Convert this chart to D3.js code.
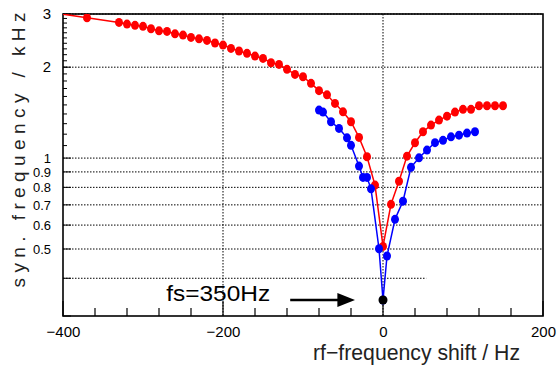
<!DOCTYPE html>
<html><head><meta charset="utf-8">
<script src="https://cdn.jsdelivr.net/npm/d3@7"></script>
<style>
html,body{margin:0;padding:0;background:#fff;}
svg{display:block;}
text{font-family:"Liberation Sans",Arial,Helvetica,sans-serif;}
</style></head>
<body>
<svg id="chart" width="557" height="366"></svg>
<script>
// ---- data ----
const redX = [-430,-370,-330,-320,-310,-300,-290,-280,-270,-260,-250,-240,-230,-220,-210,-200,-190,-180,-170,-160,-150,-140,-130,-120,-110,-100,-90,-80,-70,-60,-50,-40,-30,-20,-10,0,10,20,30,40,50,60,70,80,90,100,110,120,130,140,150];
const redY = [3.08,2.915,2.814,2.778,2.751,2.730,2.680,2.639,2.627,2.579,2.555,2.510,2.483,2.453,2.405,2.367,2.308,2.262,2.222,2.177,2.138,2.069,2.043,1.967,1.893,1.859,1.768,1.672,1.620,1.517,1.423,1.319,1.171,1.010,0.814,0.510,0.703,0.838,1.015,1.124,1.222,1.286,1.336,1.377,1.420,1.450,1.450,1.490,1.490,1.490,1.490];
const blueX = [-80,-75,-65,-55,-45,-40,-30,-25,-20,-15,-5,0,5,15,25,35,45,55,65,75,85,95,105,115];
const blueY = [1.442,1.420,1.319,1.254,1.167,1.102,0.941,0.863,0.863,0.791,0.501,0.339,0.474,0.627,0.720,0.932,1.002,1.063,1.125,1.145,1.176,1.191,1.210,1.222];
const markX = [0];
const markY = [0.339];
const xTickLabels = [-400,-200,0,200];
const yTickLabels = [0.5,0.6,0.7,0.8,0.9,1,2,3];
const yGrid = [0.5,0.6,0.7,0.8,0.9,1,2,3];
const xGrid = [-200,0];
const annotText = "fs=350Hz";

// ---- layout ----
const svg = d3.select("#chart");
const L = 63, R = 543, T = 14, B = 316;
const x = d3.scaleLinear().domain([-400,200]).range([L,R]);
const y = d3.scaleLog().domain([0.3,3]).range([B,T]);

svg.append("defs").append("clipPath").attr("id","clip")
  .append("rect").attr("x",L).attr("y",T).attr("width",R-L).attr("height",B-T);

// grid
const g = svg.append("g").attr("stroke","#000").attr("stroke-width",1).attr("stroke-dasharray","1.5,1.5").attr("fill","none");
yGrid.forEach(v=>{
  g.append("line").attr("x1",L).attr("x2",R).attr("y1",y(v)).attr("y2",y(v));
});
g.append("line").attr("x1",L).attr("x2",x(54)).attr("y1",y(0.4)).attr("y2",y(0.4));
xGrid.forEach(v=>{
  g.append("line").attr("x1",x(v)).attr("x2",x(v)).attr("y1",T).attr("y2",B);
});

// x axis
const xAxis = d3.axisBottom(x).tickValues(xTickLabels).tickSize(0).tickPadding(10).tickFormat(d=>d3.format("")(d).replace("-","\u2212"));
const xa = svg.append("g").attr("transform",`translate(0,${B})`).call(xAxis);
xa.select(".domain").remove();
xa.selectAll("text").attr("font-size",15).attr("fill","#000").attr("font-family","Liberation Sans, Arial, sans-serif");
const minorX = d3.range(-400,201,40);
svg.append("g").selectAll("line").data(minorX).join("line")
  .attr("x1",d=>x(d)).attr("x2",d=>x(d))
  .attr("y1",B).attr("y2",d=>d%200===0?B-15:B-8)
  .attr("stroke","#000").attr("stroke-width",1.2);

// y axis
const yAxis = d3.axisLeft(y).tickValues(yTickLabels).tickSize(0).tickPadding(12).tickFormat(d=>d3.format("")(d));
const ya = svg.append("g").attr("transform",`translate(${L},0)`).call(yAxis);
ya.select(".domain").remove();
ya.selectAll("text").attr("font-size",d=>d>1?15:13).attr("fill","#000").attr("font-family","Liberation Sans, Arial, sans-serif")
  .attr("textLength",d=>d<1?18:null).attr("lengthAdjust","spacingAndGlyphs");
const majorY = [0.3,0.4,0.5,0.6,0.7,0.8,0.9,1,2,3];
const minorY = d3.range(11,30).map(d=>d/10);
svg.append("g").selectAll("line").data(majorY).join("line")
  .attr("x1",L).attr("x2",L+8).attr("y1",d=>y(d)).attr("y2",d=>y(d))
  .attr("stroke","#000").attr("stroke-width",1);
svg.append("g").selectAll("line").data(minorY).join("line")
  .attr("x1",L).attr("x2",L+4).attr("y1",d=>y(d)).attr("y2",d=>y(d))
  .attr("stroke","#000").attr("stroke-width",1);

// frame
svg.append("rect").attr("x",L).attr("y",T).attr("width",R-L).attr("height",B-T)
  .attr("fill","none").attr("stroke","#000").attr("stroke-width",1.6);

// series
const line = d3.line().x(d=>x(d[0])).y(d=>y(d[1]));
const plot = svg.append("g").attr("clip-path","url(#clip)");
function series(xs, ys, color){
  const pts = xs.map((v,i)=>[v,ys[i]]);
  plot.append("path").datum(pts).attr("d",line).attr("fill","none").attr("stroke",color).attr("stroke-width",1.5);
  plot.append("g").selectAll("ellipse").data(pts).join("ellipse")
    .attr("cx",d=>x(d[0])).attr("cy",d=>y(d[1])).attr("rx",4).attr("ry",4.5).attr("fill",color);
}
series(redX, redY, "#ff0000");
series(blueX, blueY, "#0000ff");
plot.append("g").selectAll("circle").data(markX.map((v,i)=>[v,markY[i]])).join("circle")
  .attr("cx",d=>x(d[0])).attr("cy",d=>y(d[1])).attr("r",4.5).attr("fill","#000");

// annotation
svg.append("line").attr("x1",x(-116)).attr("x2",x(-55)).attr("y1",y(0.339)).attr("y2",y(0.339))
  .attr("stroke","#000").attr("stroke-width",2.5);
svg.append("path").attr("d",`M${x(-57)},${y(0.339)-7}L${x(-35)},${y(0.339)}L${x(-57)},${y(0.339)+7}Z`).attr("fill","#000");
svg.append("text").attr("x",x(-271)).attr("y",y(0.339)+1).attr("font-size",22)
  .attr("textLength",104).attr("lengthAdjust","spacingAndGlyphs").text(annotText);

// axis titles
svg.append("text").attr("x",313).attr("y",360).attr("font-size",22)
  .attr("textLength",207).attr("lengthAdjust","spacingAndGlyphs").attr("fill","#222")
  .text("rf\u2212frequency shift / Hz");
svg.append("text").attr("transform","translate(25,150) rotate(-90)").attr("text-anchor","middle")
  .attr("font-size",19).attr("textLength",275).attr("lengthAdjust","spacing").attr("fill","#222")
  .text("syn. frequency / kHz");
</script>
</body></html>
